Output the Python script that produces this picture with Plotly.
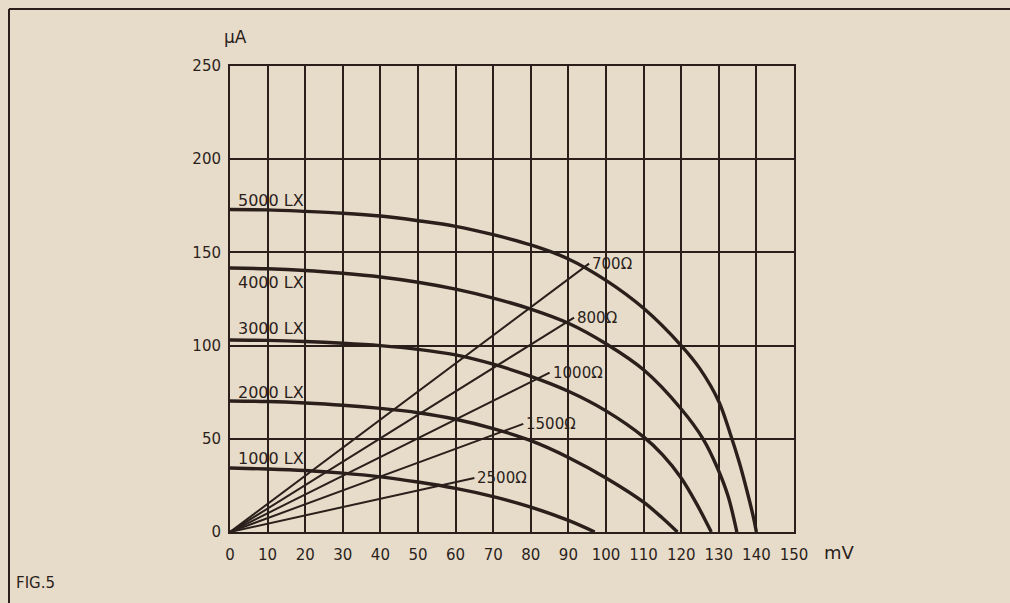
import plotly.graph_objects as go

# ---- data ----
lux_labels = ["5000 LX", "4000 LX", "3000 LX", "2000 LX", "1000 LX"]
mv_5000 = [0, 10, 20, 30, 40, 50, 60, 70, 80, 90, 100, 110, 120, 125, 130, 133, 135.5, 137.5, 139.2, 140]
ua_5000 = [173, 172.8, 172, 171, 169.5, 167, 164, 159.5, 154, 146.5, 135, 120, 100, 87.5, 70, 53, 37, 22, 8, 0]
mv_4000 = [0, 10, 20, 30, 40, 50, 60, 70, 80, 90, 100, 110, 120, 125.8, 129.5, 132.5, 134.8]
ua_4000 = [141.6, 141.2, 140.3, 138.8, 136.8, 134, 130.3, 125.5, 119.6, 112, 101, 87, 66, 50, 35, 19, 0]
mv_3000 = [0, 10, 20, 30, 40, 50, 60, 70, 80, 90, 100, 110, 115, 120, 124, 128]
ua_3000 = [103, 102.8, 102.2, 101.3, 100, 98, 95, 90, 83.5, 75.5, 65, 51, 41.5, 29, 15.5, 0]
mv_2000 = [0, 10, 20, 30, 40, 50, 60, 70, 80, 90, 100, 110, 115, 119]
ua_2000 = [70.3, 70, 69.2, 68, 66.3, 64, 60.5, 55.5, 49, 40, 29, 16, 7.5, 0]
mv_1000 = [0, 10, 20, 30, 40, 50, 60, 70, 80, 90, 97]
ua_1000 = [34.3, 33.8, 33, 31.6, 29.6, 26.8, 23.4, 19, 13.4, 6.2, 0]

load_labels = ["700Ω", "800Ω", "1000Ω", "1500Ω", "2500Ω"]
load_end_mv = [95.5, 91.5, 85, 78, 65]
load_end_ua = [144, 115, 85.5, 58, 29]

x_ticks = list(range(0, 151, 10))
y_ticks = [0, 50, 100, 150, 200, 250]

# ---- styling ----
BG = "#e7dcc9"
INK = "#2b1f1c"
FONT = "DejaVu Sans"

fig = go.Figure()

curves = [(mv_5000, ua_5000), (mv_4000, ua_4000), (mv_3000, ua_3000),
          (mv_2000, ua_2000), (mv_1000, ua_1000)]
for (xs, ys), name in zip(curves, lux_labels):
    fig.add_trace(go.Scatter(x=xs, y=ys, mode="lines", name=name,
                             line=dict(color=INK, width=3.4, shape="spline", smoothing=0.9),
                             hoverinfo="skip"))

for name, ex, ey in zip(load_labels, load_end_mv, load_end_ua):
    fig.add_trace(go.Scatter(x=[0, ex], y=[0, ey], mode="lines", name=name,
                             line=dict(color=INK, width=2), hoverinfo="skip"))

# curve labels
label_offsets = [4.8, -8, 6.4, 4.8, 5.4]
for name, ys, off in zip(lux_labels, [ua_5000, ua_4000, ua_3000, ua_2000, ua_1000], label_offsets):
    fig.add_annotation(x=1.5, y=ys[0] + off, text=name, showarrow=False,
                       xanchor="left", yanchor="middle",
                       font=dict(family=FONT, size=16, color=INK))

for name, ex, ey in zip(load_labels, load_end_mv, load_end_ua):
    fig.add_annotation(x=ex, y=ey, text=name, showarrow=False,
                       xanchor="left", yanchor="middle", xshift=1,
                       font=dict(family=FONT, size=15, color=INK))

# unit labels
fig.add_annotation(x=0, y=250, text="µA", showarrow=False, xanchor="left",
                   yanchor="bottom", xshift=-8, yshift=17,
                   font=dict(family=FONT, size=17, color=INK))
fig.add_annotation(x=150, y=0, text="mV", showarrow=False, xanchor="left",
                   yanchor="top", xshift=28, yshift=-8,
                   font=dict(family=FONT, size=18, color=INK))
fig.add_annotation(xref="paper", yref="paper", x=(14 - 230) / 564, y=(532 - 583) / 466,
                   text="FIG.5", showarrow=False, xanchor="left", yanchor="middle",
                   font=dict(family=FONT, size=15, color=INK))

# page border lines (scan frame)
px = lambda v: (v - 230) / 564
py = lambda v: (532 - v) / 466
fig.add_shape(type="line", xref="paper", yref="paper", x0=px(9), x1=px(9),
              y0=py(9), y1=py(603), line=dict(color=INK, width=2))
fig.add_shape(type="line", xref="paper", yref="paper", x0=px(9), x1=px(1010),
              y0=py(9), y1=py(9), line=dict(color=INK, width=2))

fig.update_layout(
    width=1010, height=603,
    margin=dict(l=230, r=216, t=66, b=71),
    paper_bgcolor=BG, plot_bgcolor=BG,
    showlegend=False,
    font=dict(family=FONT, color=INK),
    xaxis=dict(range=[0, 150], tickvals=x_ticks, ticktext=[str(v) for v in x_ticks],
               showgrid=True, gridcolor=INK, gridwidth=2, zeroline=False,
               showline=True, linecolor=INK, linewidth=2, mirror=True,
               ticks="", ticklabelstandoff=8,
               tickfont=dict(family=FONT, size=15, color=INK)),
    yaxis=dict(range=[0, 250], tickvals=y_ticks, ticktext=[str(v) for v in y_ticks],
               showgrid=True, gridcolor=INK, gridwidth=2, zeroline=False,
               showline=True, linecolor=INK, linewidth=2, mirror=True,
               ticks="", ticklabelstandoff=4,
               tickfont=dict(family=FONT, size=15, color=INK)),
)

fig.write_html("out.html", config={"displayModeBar": False},
               post_script="document.body.style.margin='0';"
                           "document.body.style.background='" + BG + "';")
